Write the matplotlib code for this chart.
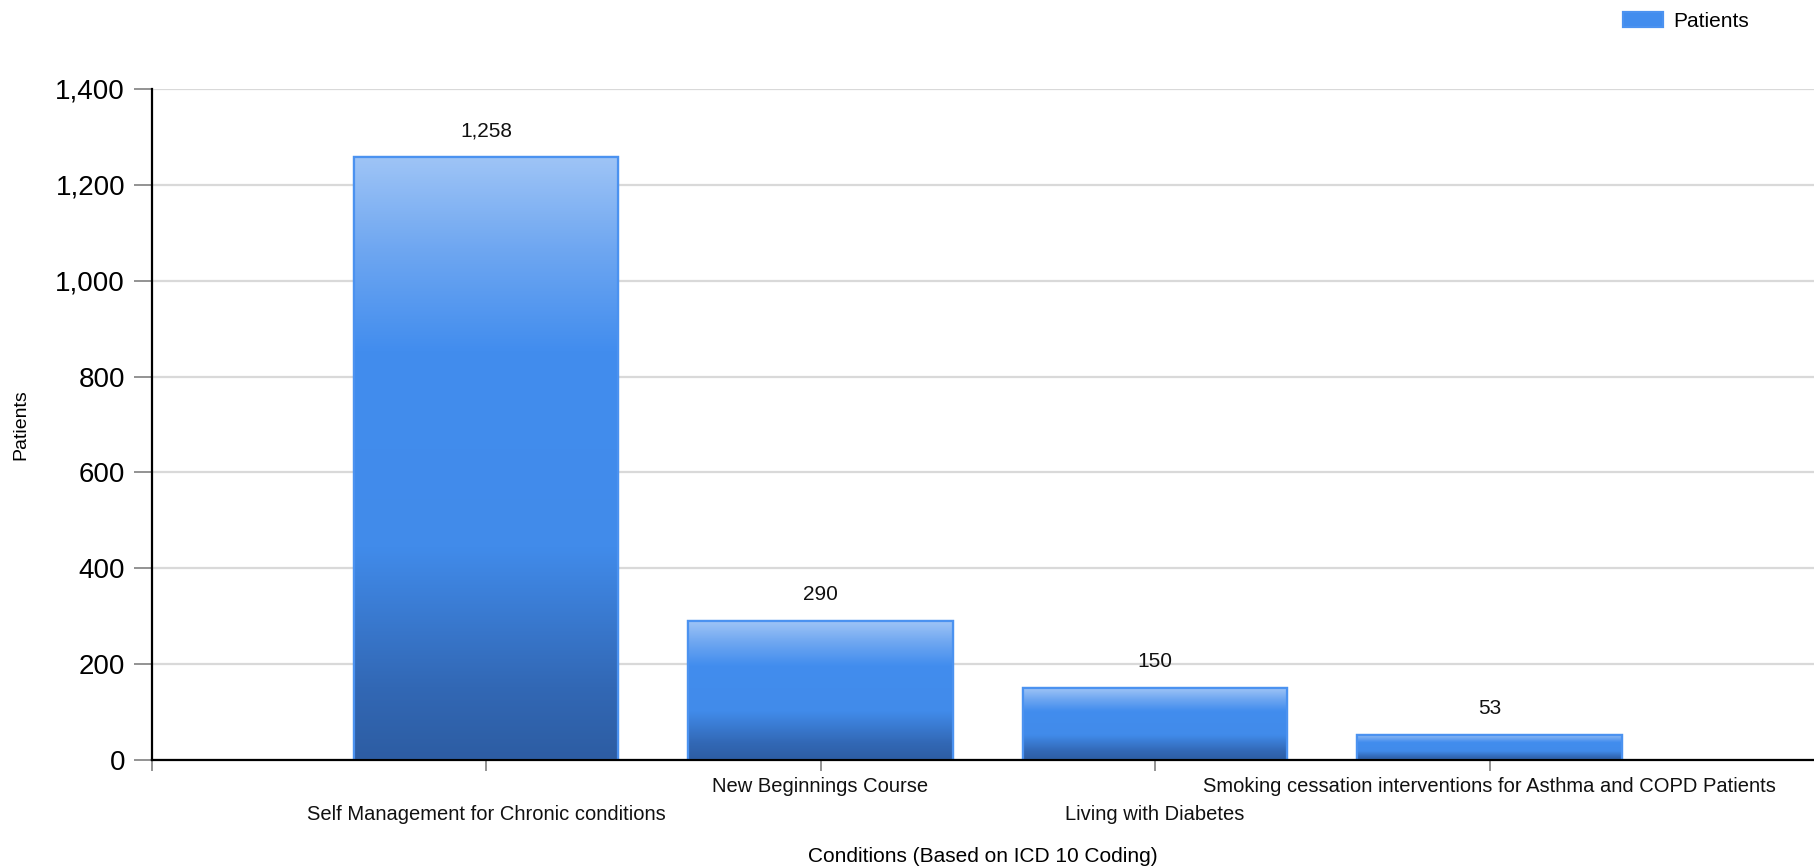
import numpy as np
import matplotlib
matplotlib.use("Agg")
import matplotlib.pyplot as plt
from matplotlib.colors import LinearSegmentedColormap

plt.rcParams['font.family'] = ['Liberation Sans', 'DejaVu Sans']

# Data
categories = [
    "Self Management for Chronic conditions",
    "New Beginnings Course",
    "Living with Diabetes",
    "Smoking cessation interventions for Asthma and COPD Patients",
]
patients = [1258, 290, 150, 53]
y_ticks = [0, 200, 400, 600, 800, 1000, 1200, 1400]
series_name = "Patients"
x_title = "Conditions (Based on ICD 10 Coding)"
y_title = "Patients"

W, H, DPI = 1814, 867, 100
fig = plt.figure(figsize=(W / DPI, H / DPI), dpi=DPI)
ax = fig.add_axes([151.5 / W, 1 - 760 / H, 1 - 151.5 / W, (760 - 89) / H])

x = np.arange(len(categories))
bar_w = 0.79
bars = ax.bar(x, patients, width=bar_w, color="#428DEE", edgecolor="#4B92F0",
              linewidth=1.6, zorder=2, label=series_name)

# vertical gradient inside each bar: dark base, bright middle, light top
cmap = LinearSegmentedColormap.from_list(
    "barfill",
    [(0.0, "#2D5DA3"), (0.12, "#3268B5"), (0.35, "#418BEA"),
     (0.68, "#428DEE"), (0.85, "#6FA7F1"), (1.0, "#9EC4F6")])
grad = np.linspace(0, 1, 256).reshape(-1, 1)
for rect in bars:
    bx, by = rect.get_x(), rect.get_y()
    bw, bh = rect.get_width(), rect.get_height()
    im = ax.imshow(grad, extent=[bx, bx + bw, by, by + bh], origin="lower",
                   cmap=cmap, aspect="auto", zorder=2.5, interpolation="bilinear")
    im.set_clip_path(rect)
# outline on top of the gradient
ax.bar(x, patients, width=bar_w, facecolor="none", edgecolor="#4B92F0",
       linewidth=1.6, zorder=3)

# value labels
for xi, v in zip(x, patients):
    ax.annotate(f"{v:,}", (xi, v), xytext=(0, 19), textcoords="offset points",
                ha="center", va="center", fontsize=15, color="#111111")

ax.set_xlim(-1, 3.97)
ax.set_ylim(0, 1400)
ax.set_yticks(y_ticks)
ax.set_yticklabels([f"{t:,}" for t in y_ticks], fontsize=20)
ax.yaxis.grid(True, color="#D9D9D9", linewidth=1.6, zorder=0)
ax.set_axisbelow(True)

ax.set_xticks([-1] + list(x))
ax.set_xticklabels([])
# category labels staggered on two rows below the axis
for i, (xi, name) in enumerate(zip(x, categories)):
    dy = -55 if i % 2 == 0 else -26
    ax.annotate(name, (xi, 0), xycoords=("data", "axes fraction"),
                xytext=(0, dy * 72 / DPI), textcoords="offset points",
                ha="center", va="center", fontsize=14.5, color="#111111",
                annotation_clip=False)

ax.tick_params(axis="y", length=13, width=1.2, color="#808080", pad=6)
ax.tick_params(axis="x", length=8, width=1.2, color="#808080", pad=6)

for s in ("top", "right"):
    ax.spines[s].set_visible(False)
for s in ("left", "bottom"):
    ax.spines[s].set_color("black")
    ax.spines[s].set_linewidth(1.6)
    ax.spines[s].set_zorder(4)

ax.set_xlabel(x_title, fontsize=15, va="center")
ax.xaxis.set_label_coords(0.5, (760 - 856) / (760 - 89))
ax.set_ylabel(y_title, fontsize=14, va="center")
ax.yaxis.set_label_coords((21 - 151.5) / (W - 151.5), 0.5)

ax.legend(loc="upper left", bbox_to_anchor=(1623 / W, 1 - 12 / H),
          bbox_transform=fig.transFigure, frameon=False, fontsize=15,
          handlelength=1.9, handleheight=0.75, handletextpad=0.5,
          borderpad=0, borderaxespad=0)

fig.savefig("out.png", dpi=DPI)
